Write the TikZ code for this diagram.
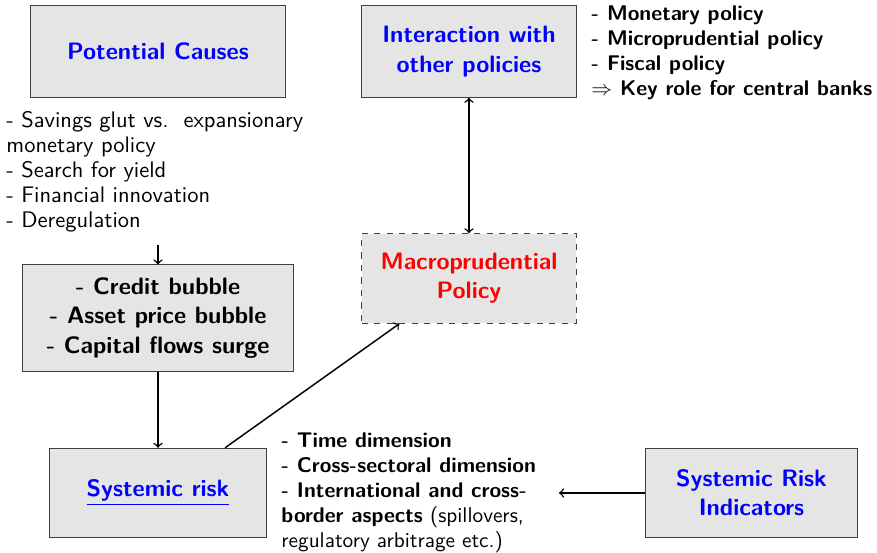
\documentclass[tikz,border=0pt]{standalone}
\usepackage{fontspec}
\usetikzlibrary{arrows.meta}
\renewcommand{\familydefault}{\sfdefault}

\begin{document}
\begin{tikzpicture}[
  x=0.48pt,y=-0.48pt,
  >=to,
  every node/.style={font=\sffamily},
  box/.style={draw=black!75,fill=black!10,align=center,font=\sffamily\fontsize{11.4}{14}\selectfont\bfseries},
  list/.style={align=left,inner sep=0pt,anchor=north west,font=\sffamily\fontsize{10.2}{12}\selectfont},
  link/.style={->,line width=0.7pt}
]
\useasboundingbox (0,0) rectangle (877,552);
\node[box,minimum width=122pt,minimum height=44pt,text=blue] (causes) at (158,51.5) {Potential Causes};
\node[box,minimum width=103pt,minimum height=44pt,text=blue] (inter) at (469,51.5) {Interaction with\\other policies};
\node[box,minimum width=130pt,minimum height=51pt] (bubble) at (158,318) {- Credit bubble\\- Asset price bubble\\- Capital flows surge};
\node[box,dashed,minimum width=103pt,minimum height=43pt,text=red] (macro) at (469,278.5) {Macroprudential\\Policy};
\node[box,minimum width=104pt,minimum height=43pt,text=blue] (risk) at (158,493) {\underline{Systemic risk}};
\node[box,minimum width=102pt,minimum height=43pt,text=blue] (ind) at (751.5,493) {Systemic Risk\\Indicators};
% lists of points
\node[list,font=\sffamily\fontsize{10.8}{12}\selectfont] (causelist) at (6,111) {- Savings glut vs.\ \ expansionary\\monetary policy\\- Search for yield\\- Financial innovation\\- Deregulation};
\node[list,font=\sffamily\fontsize{10.2}{12}\selectfont\bfseries] (interlist) at (591,5) {- Monetary policy\\- Microprudential policy\\- Fiscal policy\\\(\Rightarrow\) Key role for central banks};
\node[list] (risklist) at (281,432) {\textbf{- Time dimension}\\\textbf{- Cross-sectoral dimension}\\\textbf{- International and cross-}\\\textbf{border aspects} (spillovers,\\regulatory arbitrage etc.)};
\coordinate (causeend) at (158,245);
\coordinate (listend) at (559,493);
% arrows
\draw[link] (causeend) -- (bubble.north);
\draw[link] (bubble) -- (risk);
\draw[link] (risk.34) -- (macro.213);
\draw[link,<->] (inter) -- (macro);
\draw[link] (ind) -- (listend);
\end{tikzpicture}
\end{document}
